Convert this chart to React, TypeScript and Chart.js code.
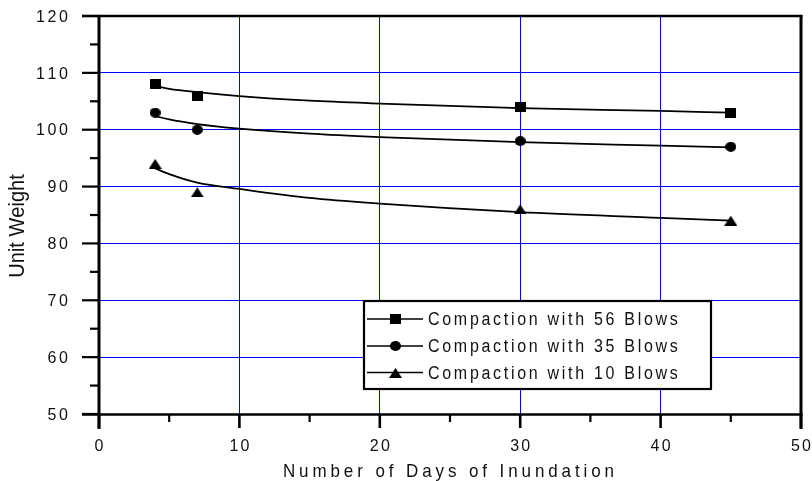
import React, { useEffect, useRef } from 'react';
import { Chart, registerables } from 'chart.js';

Chart.register(...registerables);

const xMajorTicks = [0, 10, 20, 30, 40, 50];
const xMinorTicks = [5, 15, 25, 35, 45];
const yMajorTicks = [50, 60, 70, 80, 90, 100, 110, 120];
const yMinorTicks = [55, 65, 75, 85, 95, 105, 115];

const days = [4, 7, 30, 45];
const blows56 = [108, 106, 104, 103];
const blows35 = [103, 100, 98, 97];
const blows10 = [94, 89, 86, 84];

const curveDays = [4, 5, 7, 10, 15, 20, 30, 40, 45];
const curve56 = [107.7, 107.2, 106.6, 105.9, 105.1, 104.6, 103.8, 103.3, 103.0];
const curve35 = [102.4, 101.8, 101.0, 100.2, 99.3, 98.7, 97.8, 97.2, 96.9];
const curve10 = [93.2, 92.2, 90.7, 89.6, 88.0, 87.0, 85.5, 84.5, 84.0];

const seriesLabels = ['Compaction with 56 Blows', 'Compaction with 35 Blows', 'Compaction with 10 Blows'];
const xTitle = 'Number of Days of Inundation';
const yTitle = 'Unit Weight';

const FONT = '"Liberation Sans", Arial, Helvetica, sans-serif';

function makeMarker(kind: string): HTMLCanvasElement {
  const c = document.createElement('canvas');
  const w = kind === 'triangle' ? 13 : 11;
  const h = 10;
  c.width = w;
  c.height = h;
  const g = c.getContext('2d')!;
  g.fillStyle = '#000';
  g.beginPath();
  if (kind === 'square') {
    g.rect(0, 0, w, h);
  } else if (kind === 'circle') {
    g.ellipse(w / 2, h / 2, w / 2, h / 2, 0, 0, Math.PI * 2);
  } else {
    g.moveTo(w / 2, 0);
    g.lineTo(w, h);
    g.lineTo(0, h);
    g.closePath();
  }
  g.fill();
  return c;
}

function drawSpaced(
  ctx: CanvasRenderingContext2D,
  text: string,
  x: number,
  y: number,
  size: number,
  spacing: number,
  align: 'left' | 'center' | 'right',
  sy: number
) {
  ctx.save();
  ctx.font = `${size}px ${FONT}`;
  ctx.textBaseline = 'alphabetic';
  ctx.textAlign = 'left';
  ctx.fillStyle = '#111';
  const chars = [...text];
  const widths = chars.map((c) => ctx.measureText(c).width);
  const total = widths.reduce((a, b) => a + b, 0) + spacing * (chars.length - 1);
  const start = align === 'center' ? x - total / 2 : align === 'right' ? x - total : x;
  ctx.translate(start, y);
  ctx.scale(1, sy);
  let cx = 0;
  chars.forEach((c, i) => {
    ctx.fillText(c, cx, 0);
    cx += widths[i] + spacing;
  });
  ctx.restore();
}

export default function App() {
  const ref = useRef<HTMLCanvasElement | null>(null);

  useEffect(() => {
    document.body.style.margin = '0';
    const canvas = ref.current;
    if (!canvas) return;
    const markers = [makeMarker('square'), makeMarker('circle'), makeMarker('triangle')];
    const seriesValues = [blows56, blows35, blows10];
    const curveValues = [curve56, curve35, curve10];

    const decor = {
      id: 'decor',
      afterDraw(chart: any) {
        const ctx: CanvasRenderingContext2D = chart.ctx;
        const xs = chart.scales.x;
        const ys = chart.scales.y;
        const { left, right, top, bottom } = chart.chartArea;
        ctx.save();
        ctx.strokeStyle = '#000';
        ctx.lineCap = 'butt';
        // frame
        ctx.lineWidth = 2.3;
        ctx.beginPath();
        ctx.moveTo(left - 17, top);
        ctx.lineTo(right + 1.5, top);
        ctx.stroke();
        ctx.beginPath();
        ctx.moveTo(left - 17, bottom + 0.5);
        ctx.lineTo(right + 1.5, bottom + 0.5);
        ctx.stroke();
        ctx.lineWidth = 3;
        ctx.beginPath();
        ctx.moveTo(left, top - 1);
        ctx.lineTo(left, bottom + 15);
        ctx.stroke();
        ctx.beginPath();
        ctx.moveTo(right, top - 1);
        ctx.lineTo(right, bottom + 15);
        ctx.stroke();
        // y ticks
        ctx.lineWidth = 2.2;
        yMajorTicks.forEach((v) => {
          const py = ys.getPixelForValue(v);
          ctx.beginPath();
          ctx.moveTo(left - 17, py);
          ctx.lineTo(left, py);
          ctx.stroke();
        });
        yMinorTicks.forEach((v) => {
          const py = ys.getPixelForValue(v);
          ctx.beginPath();
          ctx.moveTo(left - 9, py);
          ctx.lineTo(left, py);
          ctx.stroke();
        });
        // x ticks
        ctx.lineWidth = 2.6;
        xMajorTicks.forEach((v) => {
          const px = xs.getPixelForValue(v);
          ctx.beginPath();
          ctx.moveTo(px, bottom);
          ctx.lineTo(px, bottom + 14);
          ctx.stroke();
        });
        ctx.lineWidth = 2.2;
        xMinorTicks.forEach((v) => {
          const px = xs.getPixelForValue(v);
          ctx.beginPath();
          ctx.moveTo(px, bottom);
          ctx.lineTo(px, bottom + 8);
          ctx.stroke();
        });
        ctx.restore();

        // tick labels
        yMajorTicks.forEach((v) => {
          const py = ys.getPixelForValue(v);
          drawSpaced(ctx, String(v), 68, py + 5.7, 16, 2.6, 'right', 1);
        });
        xMajorTicks.forEach((v) => {
          const px = xs.getPixelForValue(v);
          drawSpaced(ctx, String(v), px, 451, 16, 2.2, 'center', 1.05);
        });

        // axis titles
        drawSpaced(ctx, xTitle, 448.5, 477, 17, 3.9, 'center', 1.12);
        ctx.save();
        ctx.translate(24, 226);
        ctx.rotate(-Math.PI / 2);
        drawSpaced(ctx, yTitle, 0, 0, 20, 0, 'center', 1.12);
        ctx.restore();

        // legend
        const lx0 = 364, ly0 = 301, lx1 = 711, ly1 = 389;
        ctx.save();
        ctx.fillStyle = '#fff';
        ctx.fillRect(lx0, ly0, lx1 - lx0, ly1 - ly0);
        ctx.strokeStyle = '#000';
        ctx.lineWidth = 2.2;
        ctx.strokeRect(lx0, ly0, lx1 - lx0, ly1 - ly0);
        const rows = [319, 346, 372.5];
        rows.forEach((ry, i) => {
          ctx.lineWidth = 1.6;
          ctx.beginPath();
          ctx.moveTo(367, ry);
          ctx.lineTo(423, ry);
          ctx.stroke();
          const m = markers[i];
          ctx.drawImage(m, Math.round(395 - m.width / 2), Math.round(ry - m.height / 2));
          drawSpaced(ctx, seriesLabels[i], 428, ry + 6.3, 16, 2.7, 'left', 1.1);
        });
        ctx.restore();
      },
    };

    const markerSets = seriesValues.map((vals, i) => ({
      label: seriesLabels[i],
      data: days.map((d, j) => ({ x: d, y: vals[j] })),
      showLine: false,
      pointStyle: markers[i],
      pointRadius: 6,
      borderColor: '#000',
      backgroundColor: '#000',
    }));
    const curveSets = curveValues.map((vals, i) => ({
      label: seriesLabels[i] + ' fit',
      data: curveDays.map((d, j) => ({ x: d, y: vals[j] })),
      showLine: true,
      pointRadius: 0,
      borderColor: '#000',
      borderWidth: 1.8,
      fill: false,
      cubicInterpolationMode: 'monotone',
    }));

    const chart = new Chart(canvas, {
      type: 'line',
      data: { datasets: [...markerSets, ...curveSets] as any },
      options: {
        animation: false,
        responsive: false,
        events: [],
        layout: { padding: { left: 99, top: 16, right: 11, bottom: 67 } },
        plugins: { legend: { display: false }, tooltip: { enabled: false } },
        scales: {
          x: {
            type: 'linear',
            min: 0,
            max: 50,
            ticks: { display: false, stepSize: 10 },
            grid: {
              drawTicks: false,
              lineWidth: 1,
              color: (c: any) =>
                c.tick && c.tick.value > 0 && c.tick.value < 50 ? '#0000ff' : 'rgba(0,0,0,0)',
            },
            border: { display: false },
            afterFit: (s: any) => {
              s.height = 0;
            },
          },
          y: {
            type: 'linear',
            min: 50,
            max: 120,
            ticks: { display: false, stepSize: 10 },
            grid: {
              drawTicks: false,
              lineWidth: 1,
              color: (c: any) =>
                c.tick && c.tick.value > 50 && c.tick.value < 120 ? '#0000ff' : 'rgba(0,0,0,0)',
            },
            border: { display: false },
            afterFit: (s: any) => {
              s.width = 0;
            },
          },
        },
      } as any,
      plugins: [decor],
    });
    return () => chart.destroy();
  }, []);

  return (
    <div style={{ width: 812, height: 481, background: '#fff' }}>
      <canvas ref={ref} width={812} height={481} style={{ display: 'block' }} />
    </div>
  );
}
